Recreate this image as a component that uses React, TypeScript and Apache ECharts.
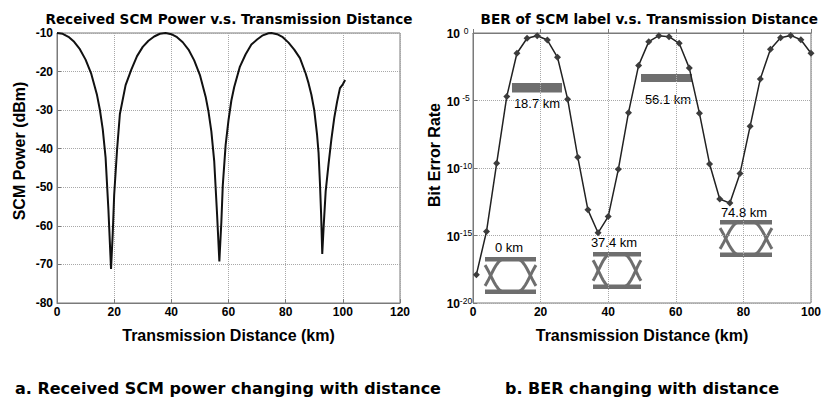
import React, { useEffect, useRef } from 'react';
import * as echarts from 'echarts';

// ---- Data: received SCM power (left panel) ----
const powerKm = [0, 2, 4, 6, 8, 10, 12, 14, 15, 16, 17, 18, 18.9, 19.5, 20, 21, 22, 24, 26, 28, 30, 32, 34, 36, 38, 40, 42, 44, 46, 48, 50, 52, 53, 54, 55, 56, 56.8, 57.5, 58, 59, 60, 61, 62, 64, 66, 68, 70, 72, 74, 75, 77, 79, 81, 83, 85, 87, 88, 89, 90, 91, 91.5, 92, 92.4, 92.8, 93.3, 94, 95, 96, 97, 98, 99, 100, 100.8];
const powerDbm = [-10, -10.2, -11.0, -12.3, -14.2, -16.9, -20.6, -26.1, -29.9, -34.9, -42.3, -56, -71.2, -62, -52, -40.4, -31, -23.5, -19.5, -16, -13.6, -12, -10.9, -10.2, -10.0, -10.3, -11.1, -12.4, -14.3, -17.1, -20.9, -26.5, -30.4, -35.5, -43.2, -57, -69.2, -59, -49.5, -39, -32.6, -27.5, -24, -18.7, -15.5, -13, -11.7, -10.6, -10.05, -10, -10.3, -11.1, -12.5, -14.3, -16.5, -20.5, -23, -26, -30, -36.5, -41, -49, -57, -67.3, -60, -51, -44, -37.5, -32, -27.8, -24.3, -23.3, -22.2];

// ---- Data: BER of SCM label (right panel), as log10(BER) ----
const berKm = [1, 4, 7, 10, 13, 16, 19, 22, 25, 28, 31, 34, 37, 40, 43, 46, 49, 52, 55, 58, 61, 64, 67, 70, 73, 76, 79, 82, 85, 88, 91, 94, 97, 100];
const berLog10 = [-17.9, -14.7, -9.65, -4.7, -1.5, -0.39, -0.2, -0.52, -1.8, -4.9, -9.2, -13.1, -14.8, -13.6, -10.1, -5.9, -2.4, -0.64, -0.2, -0.27, -0.76, -2.6, -5.95, -9.7, -12.3, -12.6, -10.4, -6.9, -3.4, -1.2, -0.35, -0.18, -0.5, -1.5];

// ---- Axis settings ----
const powerXRange = [0, 120, 20];
const powerYRange = [-80, -10, 10];
const berXRange = [0, 100, 20];
const berExpRange = [-20, 0, 5];

// ---- Texts ----
const titleLeft = 'Received SCM Power v.s. Transmission Distance';
const titleRight = 'BER of SCM label v.s. Transmission Distance';
const xName = 'Transmission Distance (km)';
const yNameLeft = 'SCM Power (dBm)';
const yNameRight = 'Bit Error Rate';
const captionA = 'a. Received SCM power changing with distance';
const captionB = 'b. BER changing with distance';
const eyeLabels = ['0 km', '18.7 km', '37.4 km', '56.1 km', '74.8 km'];

const FONT = 'Liberation Sans, Arial, sans-serif';
const WIDE = 'DejaVu Sans, Liberation Sans, sans-serif';
const EYE = '#6e6e6e';

function eyeDiagram(x: number, y: number, w: number, h: number) {
  const rail = 4.5;
  const yt = y + rail / 2;
  const yb = y + h - rail / 2;
  const mid = (yt + yb) / 2;
  const amp = (yb - yt) / 2;
  const d = w * 0.25;
  const children: any[] = [
    { type: 'rect', shape: { x, y, width: w, height: rail }, style: { fill: EYE } },
    { type: 'rect', shape: { x, y: y + h - rail, width: w, height: rail }, style: { fill: EYE } },
  ];
  const centers = [x + w * 0.11, x + w * 0.89];
  for (const xc of centers) {
    for (const sign of [1, -1]) {
      const pts: number[][] = [];
      const x0 = Math.max(x, xc - d);
      const x1 = Math.min(x + w, xc + d);
      const n = 14;
      for (let i = 0; i <= n; i++) {
        const px = x0 + ((x1 - x0) * i) / n;
        const t = (px - xc) / d;
        pts.push([px, mid - sign * amp * Math.sin((Math.PI / 2) * t)]);
      }
      children.push({ type: 'polyline', shape: { points: pts }, style: { stroke: EYE, lineWidth: 3, fill: null } });
    }
  }
  return { type: 'group', children };
}

function label(text: string, x: number, y: number) {
  return {
    type: 'text',
    x,
    y,
    style: { text, fontSize: 13, fontFamily: FONT, fill: '#000', align: 'center', verticalAlign: 'middle' },
  };
}

export default function App() {
  const ref = useRef<HTMLDivElement>(null);
  useEffect(() => {
    if (!ref.current) return;
    const chart = echarts.init(ref.current, null, { renderer: 'svg' });
    const axisCommonX = {
      type: 'value',
      nameLocation: 'middle',
      nameGap: 24,
      nameTextStyle: { fontSize: 16, fontWeight: 'bold', color: '#000', fontFamily: FONT },
      axisLabel: { fontSize: 12, fontWeight: 'bold', color: '#000', margin: 3, fontFamily: FONT },
      axisLine: { show: true, lineStyle: { color: '#7a7a7a' } },
      axisTick: { show: true, inside: true, length: 4, lineStyle: { color: '#7a7a7a' } },
      splitLine: { show: true, lineStyle: { type: 'dotted', color: '#a8a8a8' } },
    };
    const axisCommonY = {
      type: 'value',
      nameLocation: 'middle',
      nameRotate: 90,
      nameTextStyle: { fontSize: 16, fontWeight: 'bold', color: '#000', fontFamily: FONT },
      axisLabel: { fontSize: 12, fontWeight: 'bold', color: '#000', margin: 4, fontFamily: FONT },
      axisLine: { show: true, lineStyle: { color: '#7a7a7a' } },
      axisTick: { show: true, inside: true, length: 4, lineStyle: { color: '#7a7a7a' } },
      splitLine: { show: true, lineStyle: { type: 'dotted', color: '#a8a8a8' } },
    };
    const option: any = {
      animation: false,
      backgroundColor: '#fff',
      title: [
        {
          text: titleLeft,
          left: 224,
          top: 7,
          textAlign: 'center',
          textStyle: { fontSize: 13.6, fontWeight: 'bold', color: '#000', fontFamily: WIDE },
        },
        {
          text: titleRight,
          right: 1,
          top: 7,
          textStyle: { fontSize: 13.6, fontWeight: 'bold', color: '#000', fontFamily: WIDE },
        },
      ],
      grid: [
        { left: 57, top: 33, width: 343, height: 270, show: true, borderColor: '#7a7a7a', borderWidth: 1, backgroundColor: '#fff' },
        { left: 473, top: 33, width: 343, height: 270, show: true, borderColor: '#7a7a7a', borderWidth: 1, backgroundColor: '#fff' },
      ],
      xAxis: [
        { ...axisCommonX, gridIndex: 0, min: powerXRange[0], max: powerXRange[1], interval: powerXRange[2], name: xName },
        { ...axisCommonX, gridIndex: 1, min: berXRange[0], max: berXRange[1], interval: berXRange[2], name: xName },
      ],
      yAxis: [
        {
          ...axisCommonY,
          gridIndex: 0,
          min: powerYRange[0],
          max: powerYRange[1],
          interval: powerYRange[2],
          name: yNameLeft,
          nameGap: 30,
          nameTextStyle: { ...axisCommonY.nameTextStyle, padding: [0, 0, 0, 34] },
        },
        {
          ...axisCommonY,
          gridIndex: 1,
          min: berExpRange[0],
          max: berExpRange[1],
          interval: berExpRange[2],
          name: yNameRight,
          nameGap: 28,
          nameTextStyle: { ...axisCommonY.nameTextStyle, padding: [0, 0, 0, 26] },
          axisLabel: {
            margin: 1,
            formatter: (v: number) => `{b|10}{s|${v}}`,
            rich: {
              b: { fontSize: 12, fontWeight: 'bold', color: '#000', fontFamily: FONT, lineHeight: 14, verticalAlign: 'bottom' },
              s: { fontSize: 8.5, color: '#000', fontFamily: FONT, lineHeight: 14, verticalAlign: 'top', width: 12, align: 'left' },
            },
          },
        },
      ],
      series: [
        {
          type: 'line',
          xAxisIndex: 0,
          yAxisIndex: 0,
          data: powerKm.map((k, i) => [k, powerDbm[i]]),
          showSymbol: false,
          lineStyle: { color: '#111', width: 2 },
        },
        {
          type: 'line',
          xAxisIndex: 1,
          yAxisIndex: 1,
          data: berKm.map((k, i) => [k, berLog10[i]]),
          symbol: 'diamond',
          symbolSize: 7,
          itemStyle: { color: '#3c3c3c' },
          lineStyle: { color: '#222', width: 1.5 },
        },
      ],
      graphic: [
        { type: 'rect', shape: { x: 512, y: 83, width: 50, height: 9.5 }, style: { fill: EYE } },
        { type: 'rect', shape: { x: 641, y: 74, width: 51, height: 8 }, style: { fill: EYE } },
        eyeDiagram(485, 257, 51, 37),
        eyeDiagram(593, 252, 48, 37),
        eyeDiagram(720, 220, 52, 37),
        label(eyeLabels[0], 509, 247),
        label(eyeLabels[1], 537, 103),
        label(eyeLabels[2], 614, 242),
        label(eyeLabels[3], 668, 99),
        label(eyeLabels[4], 744, 212),
        {
          type: 'text',
          x: 15,
          y: 388,
          style: { text: captionA, fontSize: 16, fontWeight: 'bold', fontFamily: WIDE, fill: '#000', verticalAlign: 'middle' },
        },
        {
          type: 'text',
          x: 505,
          y: 388,
          style: { text: captionB, fontSize: 16, fontWeight: 'bold', fontFamily: WIDE, fill: '#000', verticalAlign: 'middle' },
        },
      ],
    };
    chart.setOption(option);
    return () => chart.dispose();
  }, []);
  return <div ref={ref} style={{ position: 'fixed', left: 0, top: 0, width: 824, height: 401 }} />;
}
